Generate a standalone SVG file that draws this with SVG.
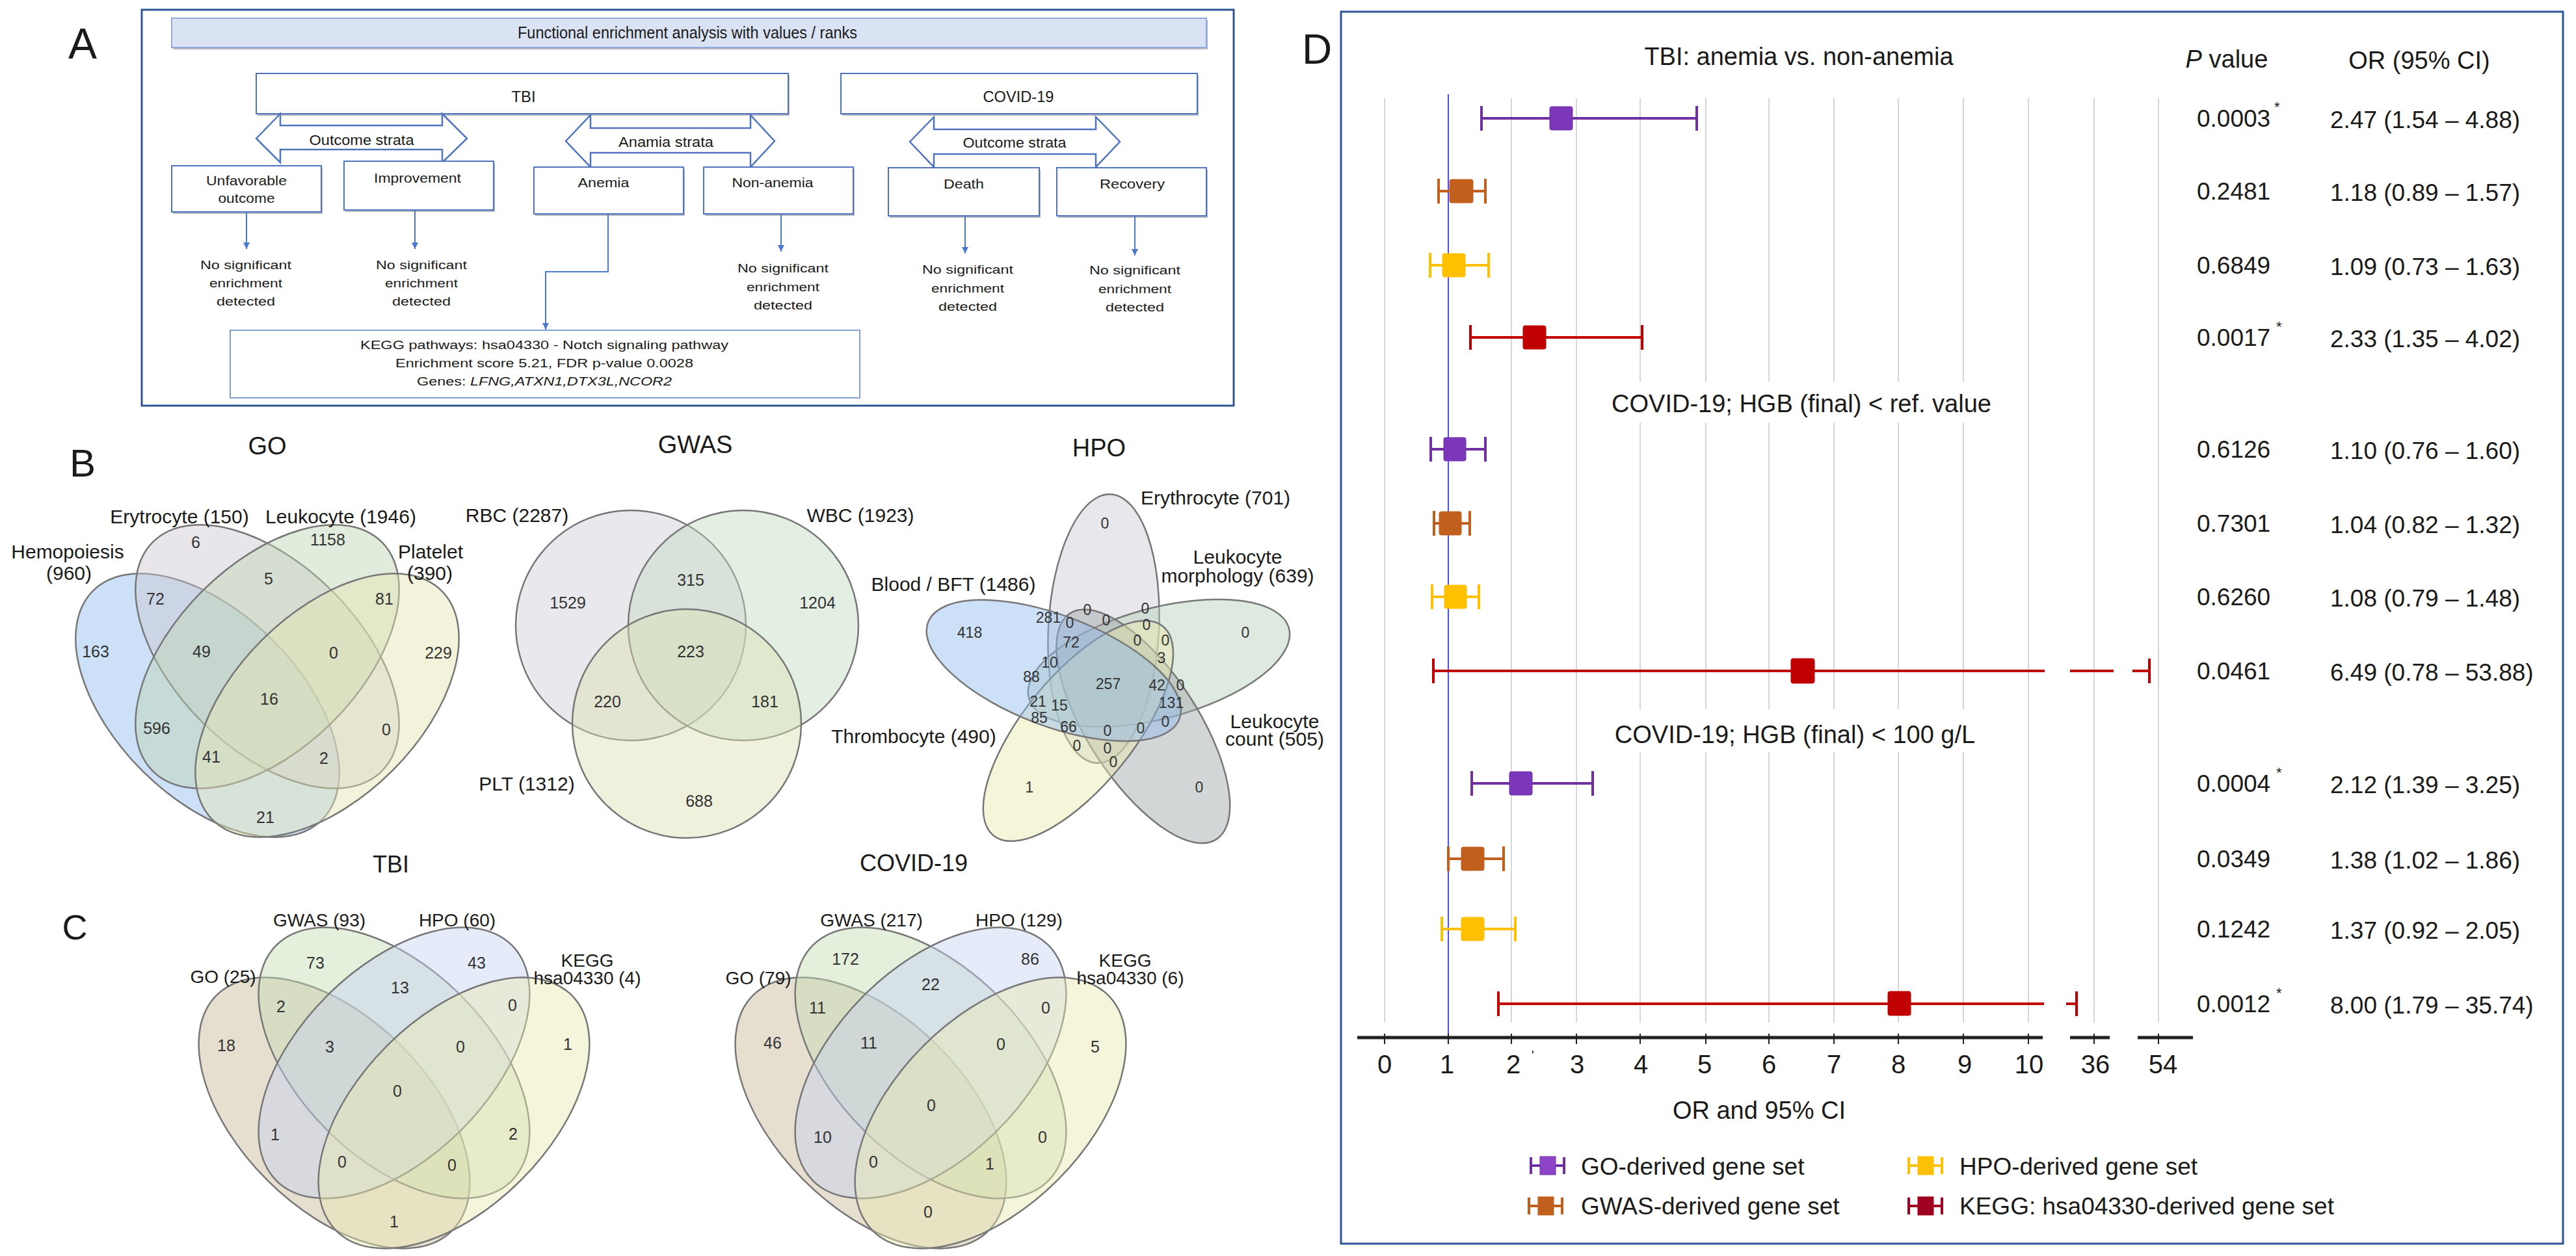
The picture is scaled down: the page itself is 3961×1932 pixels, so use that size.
<svg xmlns="http://www.w3.org/2000/svg" width="3961" height="1932" viewBox="0 0 3961 1932">
<defs>
<style>
text{font-family:"Liberation Sans",Arial,Helvetica,sans-serif;fill:#1a1a1a}
.pl{font-size:66px}
.at{text-anchor:middle;font-size:21px}
.sm{text-anchor:middle;font-size:18px}
.frame{fill:#fff;stroke:#2f5597;stroke-width:3}
.box{fill:#fff;stroke:#4f74bd;stroke-width:2}
.shd{fill:#b4b8c2}
.bar{fill:#dae3f3;stroke:#8faadc;stroke-width:2}
.barr{fill:#fff;stroke:#4f74bd;stroke-width:2.5}
.con{fill:none;stroke:#4a78cc;stroke-width:2}
.vl{font-size:30px;text-anchor:middle}
.vc{font-size:28px;text-anchor:middle}
.vt{font-size:38px;text-anchor:middle}
.n{font-size:25px;text-anchor:middle;fill:#333;dominant-baseline:central}
.nh{font-size:23px;text-anchor:middle;fill:#333;dominant-baseline:central}
.ell{stroke:#777;stroke-width:2.5;fill-opacity:.45}
.grid{stroke:#d6d6d6;stroke-width:2}
.dt{font-size:37px}
.dh{font-size:38px;text-anchor:middle}
.tk{font-size:40px;text-anchor:middle}
.ci{stroke-width:4;fill:none}
.star{font-size:22px}
</style>
<marker id="ah" viewBox="0 0 10 10" refX="10" refY="5" markerWidth="10" markerHeight="12" markerUnits="userSpaceOnUse" orient="auto">
<path d="M0,0 L10,5 L0,10 z" fill="#4a78cc"/>
</marker>
</defs>
<rect width="3961" height="1932" fill="#fff"/>

<!-- Panel letters -->
<text class="pl" x="127" y="90" text-anchor="middle" font-size="70">A</text>
<text class="pl" x="127" y="733" text-anchor="middle" style="font-size:60px">B</text>
<text class="pl" x="115" y="1445" text-anchor="middle" style="font-size:54px">C</text>
<text class="pl" x="2025" y="98" text-anchor="middle" style="font-size:64px">D</text>

<!-- ================= PANEL A ================= -->
<g id="panelA">
<rect class="frame" x="218" y="15" width="1679" height="609"/>
<g id="a-header">
<rect class="shd" x="266" y="31" width="1591" height="45"/>
<rect class="bar" x="264" y="28" width="1591" height="45"/>
<text x="1057" y="59" text-anchor="middle" font-size="26" textLength="522" lengthAdjust="spacingAndGlyphs">Functional enrichment analysis with values / ranks</text>
</g>
<g id="a-tbi">
<rect class="shd" x="396" y="116" width="818" height="62"/>
<rect class="box" x="394" y="113" width="818" height="62"/>
<text x="805" y="157" text-anchor="middle" font-size="24" textLength="37" lengthAdjust="spacingAndGlyphs">TBI</text>
</g>
<g id="a-covid">
<rect class="shd" x="1295" y="116" width="548" height="62"/>
<rect class="box" x="1293" y="113" width="548" height="62"/>
<text x="1566" y="157" text-anchor="middle" font-size="24" textLength="109" lengthAdjust="spacingAndGlyphs">COVID-19</text>
</g>
<g id="a-outcome1">
<polygon class="barr" points="394,213 431,175 431,193 680,193 680,175 718,213 680,250 680,230 431,230 431,250"/>
<text x="556" y="223" text-anchor="middle" font-size="22" textLength="161" lengthAdjust="spacingAndGlyphs">Outcome strata</text>
</g>
<g id="a-anemia-strata">
<polygon class="barr" points="870,217 908,177 908,197 1154,197 1154,177 1191,217 1154,257 1154,235 908,235 908,257"/>
<text x="1024" y="226" text-anchor="middle" font-size="22" textLength="146" lengthAdjust="spacingAndGlyphs">Anamia strata</text>
</g>
<g id="a-outcome2">
<polygon class="barr" points="1399,218 1436,180 1436,199 1685,199 1685,180 1722,218 1685,257 1685,237 1436,237 1436,257"/>
<text x="1560" y="227" text-anchor="middle" font-size="22" textLength="159" lengthAdjust="spacingAndGlyphs">Outcome strata</text>
</g>
<g id="a-unfav">
<rect class="shd" x="266" y="258" width="230" height="71"/>
<rect class="box" x="264" y="255" width="230" height="71"/>
<text x="379" y="285" text-anchor="middle" font-size="21" textLength="124" lengthAdjust="spacingAndGlyphs">Unfavorable</text>
<text x="379" y="312" text-anchor="middle" font-size="21" textLength="87" lengthAdjust="spacingAndGlyphs">outcome</text>
</g>
<g id="a-improve">
<rect class="shd" x="531" y="251" width="230" height="75"/>
<rect class="box" x="529" y="248" width="230" height="75"/>
<text x="642" y="281" text-anchor="middle" font-size="21" textLength="134" lengthAdjust="spacingAndGlyphs">Improvement</text>
</g>
<g id="a-anemia">
<rect class="shd" x="823" y="260" width="230" height="72"/>
<rect class="box" x="821" y="257" width="230" height="72"/>
<text x="928" y="288" text-anchor="middle" font-size="21" textLength="79" lengthAdjust="spacingAndGlyphs">Anemia</text>
</g>
<g id="a-nonanemia">
<rect class="shd" x="1084" y="260" width="230" height="72"/>
<rect class="box" x="1082" y="257" width="230" height="72"/>
<text x="1188" y="288" text-anchor="middle" font-size="21" textLength="125" lengthAdjust="spacingAndGlyphs">Non-anemia</text>
</g>
<g id="a-death">
<rect class="shd" x="1368" y="261" width="232" height="74"/>
<rect class="box" x="1366" y="258" width="232" height="74"/>
<text x="1482" y="290" text-anchor="middle" font-size="21" textLength="62" lengthAdjust="spacingAndGlyphs">Death</text>
</g>
<g id="a-recovery">
<rect class="shd" x="1627" y="261" width="230" height="74"/>
<rect class="box" x="1625" y="258" width="230" height="74"/>
<text x="1741" y="290" text-anchor="middle" font-size="21" textLength="100" lengthAdjust="spacingAndGlyphs">Recovery</text>
</g>
<g id="a-ns1">
<text x="378" y="414" text-anchor="middle" font-size="18" textLength="140" lengthAdjust="spacingAndGlyphs">No significant</text>
<text x="378" y="442" text-anchor="middle" font-size="18" textLength="112" lengthAdjust="spacingAndGlyphs">enrichment</text>
<text x="378" y="470" text-anchor="middle" font-size="18" textLength="90" lengthAdjust="spacingAndGlyphs">detected</text>
</g>
<g id="a-ns2">
<text x="648" y="414" text-anchor="middle" font-size="18" textLength="140" lengthAdjust="spacingAndGlyphs">No significant</text>
<text x="648" y="442" text-anchor="middle" font-size="18" textLength="112" lengthAdjust="spacingAndGlyphs">enrichment</text>
<text x="648" y="470" text-anchor="middle" font-size="18" textLength="90" lengthAdjust="spacingAndGlyphs">detected</text>
</g>
<g id="a-ns3">
<text x="1204" y="419" text-anchor="middle" font-size="18" textLength="140" lengthAdjust="spacingAndGlyphs">No significant</text>
<text x="1204" y="448" text-anchor="middle" font-size="18" textLength="112" lengthAdjust="spacingAndGlyphs">enrichment</text>
<text x="1204" y="476" text-anchor="middle" font-size="18" textLength="90" lengthAdjust="spacingAndGlyphs">detected</text>
</g>
<g id="a-ns4">
<text x="1488" y="421" text-anchor="middle" font-size="18" textLength="140" lengthAdjust="spacingAndGlyphs">No significant</text>
<text x="1488" y="450" text-anchor="middle" font-size="18" textLength="112" lengthAdjust="spacingAndGlyphs">enrichment</text>
<text x="1488" y="478" text-anchor="middle" font-size="18" textLength="90" lengthAdjust="spacingAndGlyphs">detected</text>
</g>
<g id="a-ns5">
<text x="1745" y="422" text-anchor="middle" font-size="18" textLength="140" lengthAdjust="spacingAndGlyphs">No significant</text>
<text x="1745" y="451" text-anchor="middle" font-size="18" textLength="112" lengthAdjust="spacingAndGlyphs">enrichment</text>
<text x="1745" y="479" text-anchor="middle" font-size="18" textLength="90" lengthAdjust="spacingAndGlyphs">detected</text>
</g>
<g id="a-kegg">
<rect class="box" x="354" y="508" width="968" height="104" style="stroke:#7f9fd8"/>
<text x="837" y="537" text-anchor="middle" font-size="18" textLength="566" lengthAdjust="spacingAndGlyphs">KEGG pathways: hsa04330 - Notch signaling pathway</text>
<text x="837" y="565" text-anchor="middle" font-size="18" textLength="458" lengthAdjust="spacingAndGlyphs">Enrichment score 5.21, FDR p-value 0.0028</text>
<text x="837" y="593" text-anchor="middle" font-size="18" textLength="392" lengthAdjust="spacingAndGlyphs">Genes: <tspan font-style="italic">LFNG,ATXN1,DTX3L,NCOR2</tspan></text>
</g>
<g id="a-connectors">
<line class="con" x1="379" y1="327" x2="379" y2="383" marker-end="url(#ah)"/>
<line class="con" x1="638" y1="324" x2="638" y2="383" marker-end="url(#ah)"/>
<line class="con" x1="1201" y1="330" x2="1201" y2="387" marker-end="url(#ah)"/>
<line class="con" x1="1484" y1="333" x2="1484" y2="390" marker-end="url(#ah)"/>
<line class="con" x1="1745" y1="333" x2="1745" y2="393" marker-end="url(#ah)"/>
<polyline class="con" points="935,330 935,418 839,418 839,507" marker-end="url(#ah)"/>
</g>
</g>

<!-- ================= PANEL B: GO ================= -->
<g id="venn-go">
<text class="vt" x="411" y="699">GO</text>
<ellipse class="ell" cx="319" cy="1085" rx="249" ry="142" transform="rotate(45 319 1085)" fill="#8ebbee"/>
<ellipse class="ell" cx="411" cy="1010" rx="249" ry="142" transform="rotate(45 411 1010)" fill="#ccc8d1"/>
<ellipse class="ell" cx="411" cy="1010" rx="249" ry="142" transform="rotate(-45 411 1010)" fill="#bfd5b2"/>
<ellipse class="ell" cx="503" cy="1085" rx="249" ry="142" transform="rotate(-45 503 1085)" fill="#e5e5b2"/>
<text class="vl" x="276" y="805">Erytrocyte (150)</text>
<text class="vl" x="524" y="805">Leukocyte (1946)</text>
<text class="vl" x="104" y="859">Hemopoiesis</text>
<text class="vl" x="106" y="892">(960)</text>
<text class="vl" x="662" y="859">Platelet</text>
<text class="vl" x="661" y="892">(390)</text>
<text class="n" x="301" y="834">6</text>
<text class="n" x="504" y="830">1158</text>
<text class="n" x="413" y="890">5</text>
<text class="n" x="239" y="921">72</text>
<text class="n" x="591" y="921">81</text>
<text class="n" x="147" y="1002">163</text>
<text class="n" x="310" y="1002">49</text>
<text class="n" x="513" y="1004">0</text>
<text class="n" x="674" y="1004">229</text>
<text class="n" x="414" y="1075">16</text>
<text class="n" x="241" y="1120">596</text>
<text class="n" x="594" y="1122">0</text>
<text class="n" x="325" y="1164">41</text>
<text class="n" x="498" y="1166">2</text>
<text class="n" x="408" y="1257">21</text>
</g>

<!-- ================= PANEL B: GWAS ================= -->
<g id="venn-gwas">
<text class="vt" x="1069" y="697">GWAS</text>
<circle class="ell" cx="970" cy="962" r="177" fill="#cfcdd6"/>
<circle class="ell" cx="1143" cy="962" r="177" fill="#c3dbc3"/>
<circle class="ell" cx="1056" cy="1113" r="176" fill="#dcdfb2"/>
<text class="vl" x="795" y="803">RBC (2287)</text>
<text class="vl" x="1323" y="803">WBC (1923)</text>
<text class="vl" x="810" y="1216">PLT (1312)</text>
<text class="n" x="873" y="927">1529</text>
<text class="n" x="1062" y="892">315</text>
<text class="n" x="1257" y="927">1204</text>
<text class="n" x="1062" y="1002">223</text>
<text class="n" x="934" y="1079">220</text>
<text class="n" x="1176" y="1079">181</text>
<text class="n" x="1075" y="1232">688</text>
</g>

<!-- ================= PANEL B: HPO ================= -->
<g id="venn-hpo">
<text class="vt" x="1690" y="702">HPO</text>
<ellipse class="ell" cx="1697" cy="967" rx="85" ry="207" transform="rotate(3 1697 967)" fill="#cccad2"/>
<g transform="rotate(72 1703 1052)"><ellipse class="ell" cx="1697" cy="967" rx="85" ry="207" transform="rotate(3 1697 967)" fill="#b5cfb8"/></g>
<g transform="rotate(144 1703 1052)"><ellipse class="ell" cx="1697" cy="967" rx="85" ry="207" transform="rotate(3 1697 967)" fill="#9ea3a3"/></g>
<g transform="rotate(216 1703 1052)"><ellipse class="ell" cx="1697" cy="967" rx="85" ry="207" transform="rotate(3 1697 967)" fill="#e9e9ae"/></g>
<g transform="rotate(288 1703 1052)"><ellipse class="ell" cx="1697" cy="967" rx="85" ry="207" transform="rotate(3 1697 967)" fill="#8ebbee"/></g>
<text class="vl" x="1754" y="776" text-anchor="start" style="text-anchor:start">Erythrocyte (701)</text>
<text class="vl" x="1903" y="867">Leukocyte</text>
<text class="vl" x="1903" y="896">morphology (639)</text>
<text class="vl" x="1466" y="909">Blood / BFT (1486)</text>
<text class="vl" x="1405" y="1143">Thrombocyte (490)</text>
<text class="vl" x="1960" y="1120">Leukocyte</text>
<text class="vl" x="1960" y="1147">count (505)</text>
<text class="nh" x="1699" y="805">0</text>
<text class="nh" x="1612" y="950">281</text>
<text class="nh" x="1645" y="958">0</text>
<text class="nh" x="1672" y="938">0</text>
<text class="nh" x="1761" y="936">0</text>
<text class="nh" x="1701" y="954">0</text>
<text class="nh" x="1763" y="961">0</text>
<text class="nh" x="1915" y="973">0</text>
<text class="nh" x="1491" y="973">418</text>
<text class="nh" x="1647" y="988">72</text>
<text class="nh" x="1749" y="985">0</text>
<text class="nh" x="1792" y="985">0</text>
<text class="nh" x="1786" y="1012">3</text>
<text class="nh" x="1614" y="1019">10</text>
<text class="nh" x="1586" y="1041">88</text>
<text class="nh" x="1704" y="1052">257</text>
<text class="nh" x="1779" y="1054">42</text>
<text class="nh" x="1815" y="1054">0</text>
<text class="nh" x="1801" y="1081">131</text>
<text class="nh" x="1596" y="1079">21</text>
<text class="nh" x="1629" y="1085">15</text>
<text class="nh" x="1598" y="1104">85</text>
<text class="nh" x="1643" y="1118">66</text>
<text class="nh" x="1703" y="1124">0</text>
<text class="nh" x="1754" y="1120">0</text>
<text class="nh" x="1792" y="1110">0</text>
<text class="nh" x="1656" y="1147">0</text>
<text class="nh" x="1703" y="1151">0</text>
<text class="nh" x="1712" y="1172">0</text>
<text class="nh" x="1583" y="1211">1</text>
<text class="nh" x="1844" y="1211">0</text>
</g>

<!-- ================= PANEL C: TBI ================= -->
<g id="venn-tbi">
<text class="vt" x="601" y="1342" style="font-size:36px">TBI</text>
<ellipse class="ell" cx="514" cy="1712" rx="256" ry="146" transform="rotate(45 514 1712)" fill="#c8b896"/>
<ellipse class="ell" cx="606" cy="1635" rx="256" ry="146" transform="rotate(45 606 1635)" fill="#c4dbb2"/>
<ellipse class="ell" cx="606" cy="1635" rx="256" ry="146" transform="rotate(-45 606 1635)" fill="#c8d2f2"/>
<ellipse class="ell" cx="698" cy="1712" rx="256" ry="146" transform="rotate(-45 698 1712)" fill="#e9e9b2"/>
<text class="vc" x="491" y="1425">GWAS (93)</text>
<text class="vc" x="703" y="1425">HPO (60)</text>
<text class="vc" x="343" y="1512">GO (25)</text>
<text class="vc" x="903" y="1487">KEGG</text>
<text class="vc" x="903" y="1514">hsa04330 (4)</text>
<text class="n" x="485" y="1481">73</text>
<text class="n" x="733" y="1481">43</text>
<text class="n" x="615" y="1519">13</text>
<text class="n" x="432" y="1548">2</text>
<text class="n" x="788" y="1546">0</text>
<text class="n" x="348" y="1608">18</text>
<text class="n" x="507" y="1610">3</text>
<text class="n" x="708" y="1610">0</text>
<text class="n" x="873" y="1606">1</text>
<text class="n" x="611" y="1678">0</text>
<text class="n" x="423" y="1745">1</text>
<text class="n" x="789" y="1744">2</text>
<text class="n" x="526" y="1787">0</text>
<text class="n" x="695" y="1792">0</text>
<text class="n" x="606" y="1879">1</text>
</g>

<!-- ================= PANEL C: COVID-19 ================= -->
<g id="venn-covid">
<text class="vt" x="1405" y="1340" style="font-size:36px">COVID-19</text>
<ellipse class="ell" cx="1339" cy="1712" rx="256" ry="146" transform="rotate(45 1339 1712)" fill="#c8b896"/>
<ellipse class="ell" cx="1431" cy="1635" rx="256" ry="146" transform="rotate(45 1431 1635)" fill="#c4dbb2"/>
<ellipse class="ell" cx="1431" cy="1635" rx="256" ry="146" transform="rotate(-45 1431 1635)" fill="#c8d2f2"/>
<ellipse class="ell" cx="1523" cy="1712" rx="256" ry="146" transform="rotate(-45 1523 1712)" fill="#e9e9b2"/>
<text class="vc" x="1340" y="1425">GWAS (217)</text>
<text class="vc" x="1567" y="1425">HPO (129)</text>
<text class="vc" x="1166" y="1514">GO (79)</text>
<text class="vc" x="1730" y="1487">KEGG</text>
<text class="vc" x="1738" y="1514">hsa04330 (6)</text>
<text class="n" x="1300" y="1475">172</text>
<text class="n" x="1584" y="1475">86</text>
<text class="n" x="1431" y="1514">22</text>
<text class="n" x="1257" y="1550">11</text>
<text class="n" x="1608" y="1550">0</text>
<text class="n" x="1188" y="1604">46</text>
<text class="n" x="1336" y="1604">11</text>
<text class="n" x="1539" y="1606">0</text>
<text class="n" x="1684" y="1610">5</text>
<text class="n" x="1432" y="1700">0</text>
<text class="n" x="1265" y="1749">10</text>
<text class="n" x="1603" y="1749">0</text>
<text class="n" x="1343" y="1787">0</text>
<text class="n" x="1522" y="1790">1</text>
<text class="n" x="1427" y="1864">0</text>
</g>

<!-- ================= PANEL D ================= -->
<g id="panelD">
<rect class="frame" x="2062" y="18" width="1879" height="1895"/>
<g id="d-grid">
<line class="grid" x1="2129" y1="151" x2="2129" y2="1573"/>
<line class="grid" x1="2324" y1="151" x2="2324" y2="1573"/>
<line class="grid" x1="2424" y1="151" x2="2424" y2="1573"/>
<path class="grid" d="M2522,151V587M2522,650V1091M2522,1157V1573"/>
<path class="grid" d="M2623,151V587M2623,650V1091M2623,1157V1573"/>
<path class="grid" d="M2720,151V587M2720,650V1091M2720,1157V1573"/>
<path class="grid" d="M2820,151V587M2820,650V1091M2820,1157V1573"/>
<path class="grid" d="M2919,151V587M2919,650V1091M2919,1157V1573"/>
<path class="grid" d="M3019,151V587M3019,650V1091M3019,1157V1573"/>
<line class="grid" x1="3119" y1="151" x2="3119" y2="1573"/>
<line class="grid" x1="3220" y1="151" x2="3220" y2="1573"/>
<line class="grid" x1="3319" y1="151" x2="3319" y2="1573"/>
<line x1="2227" y1="145" x2="2227" y2="1598" stroke="#4b4bff" stroke-width="2"/>
</g>
<g id="d-headers">
<text class="dh" x="2766" y="100">TBI: anemia vs. non-anemia</text>
<text class="dh" x="3424" y="104"><tspan font-style="italic">P</tspan> value</text>
<text class="dh" x="3720" y="106">OR (95% CI)</text>
<text class="dh" x="2770" y="634">COVID-19; HGB (final) &lt; ref. value</text>
<text class="dh" x="2760" y="1143">COVID-19; HGB (final) &lt; 100 g/L</text>
</g>
<g id="d-row1" stroke="#7030a0">
<path class="ci" d="M2278,182H2609M2278,163V201M2609,163V201"/>
<rect x="2383" y="164" width="35" height="36" rx="3" fill="#7b36b9"/>
</g>
<g id="d-row2" stroke="#c0601c">
<path class="ci" d="M2212,294H2284M2212,275V313M2284,275V313"/>
<rect x="2229" y="276" width="36" height="36" rx="3" fill="#c0601c"/>
</g>
<g id="d-row3" stroke="#ffc000">
<path class="ci" d="M2199,408H2289M2199,389V427M2289,389V427"/>
<rect x="2218" y="390" width="35" height="36" rx="3" fill="#ffc000"/>
</g>
<g id="d-row4" stroke="#c00000">
<path class="ci" d="M2261,519H2525M2261,500V538M2525,500V538"/>
<rect x="2342" y="501" width="35" height="36" rx="3" fill="#c00000"/>
</g>
<g id="d-row5" stroke="#7030a0">
<path class="ci" d="M2200,691H2284M2200,672V710M2284,672V710"/>
<rect x="2220" y="673" width="34" height="36" rx="3" fill="#7b36b9"/>
</g>
<g id="d-row6" stroke="#c0601c">
<path class="ci" d="M2205,805H2260M2205,786V824M2260,786V824"/>
<rect x="2213" y="787" width="34" height="36" rx="3" fill="#c0601c"/>
</g>
<g id="d-row7" stroke="#ffc000">
<path class="ci" d="M2202,918H2274M2202,899V937M2274,899V937"/>
<rect x="2221" y="900" width="34" height="36" rx="3" fill="#ffc000"/>
</g>
<g id="d-row8" stroke="#c00000">
<path class="ci" d="M2204,1032H3144M3183,1032H3250M3279,1032H3305M2204,1013V1051M3305,1013V1051"/>
<rect x="2754" y="1013" width="36" height="38" rx="3" fill="#c00000"/>
</g>
<g id="d-row9" stroke="#7030a0">
<path class="ci" d="M2263,1205H2449M2263,1186V1224M2449,1186V1224"/>
<rect x="2321" y="1187" width="35" height="36" rx="3" fill="#7b36b9"/>
</g>
<g id="d-row10" stroke="#c0601c">
<path class="ci" d="M2227,1321H2312M2227,1302V1340M2312,1302V1340"/>
<rect x="2247" y="1303" width="35" height="36" rx="3" fill="#c0601c"/>
</g>
<g id="d-row11" stroke="#ffc000">
<path class="ci" d="M2217,1429H2330M2217,1410V1448M2330,1410V1448"/>
<rect x="2247" y="1411" width="35" height="36" rx="3" fill="#ffc000"/>
</g>
<g id="d-row12" stroke="#c00000">
<path class="ci" d="M2304,1544H3143M3177,1544H3193M2304,1525V1563M3193,1525V1563"/>
<rect x="2903" y="1525" width="35" height="37" rx="3" fill="#c00000"/>
</g>
<g id="d-values" class="dt">
<text class="dt" x="3378" y="195">0.0003</text><text class="star" x="3497" y="172">*</text>
<text class="dt" x="3583" y="197">2.47 (1.54 – 4.88)</text>
<text class="dt" x="3378" y="307">0.2481</text>
<text class="dt" x="3583" y="309">1.18 (0.89 – 1.57)</text>
<text class="dt" x="3378" y="421">0.6849</text>
<text class="dt" x="3583" y="423">1.09 (0.73 – 1.63)</text>
<text class="dt" x="3378" y="532">0.0017</text><text class="star" x="3500" y="510">*</text>
<text class="dt" x="3583" y="534">2.33 (1.35 – 4.02)</text>
<text class="dt" x="3378" y="704">0.6126</text>
<text class="dt" x="3583" y="706">1.10 (0.76 – 1.60)</text>
<text class="dt" x="3378" y="818">0.7301</text>
<text class="dt" x="3583" y="820">1.04 (0.82 – 1.32)</text>
<text class="dt" x="3378" y="931">0.6260</text>
<text class="dt" x="3583" y="933">1.08 (0.79 – 1.48)</text>
<text class="dt" x="3378" y="1045">0.0461</text>
<text class="dt" x="3583" y="1047">6.49 (0.78 – 53.88)</text>
<text class="dt" x="3378" y="1218">0.0004</text><text class="star" x="3500" y="1196">*</text>
<text class="dt" x="3583" y="1220">2.12 (1.39 – 3.25)</text>
<text class="dt" x="3378" y="1334">0.0349</text>
<text class="dt" x="3583" y="1336">1.38 (1.02 – 1.86)</text>
<text class="dt" x="3378" y="1442">0.1242</text>
<text class="dt" x="3583" y="1444">1.37 (0.92 – 2.05)</text>
<text class="dt" x="3378" y="1557">0.0012</text><text class="star" x="3500" y="1535">*</text>
<text class="dt" x="3583" y="1559">8.00 (1.79 – 35.74)</text>
</g>
<g id="d-axis">
<path d="M2087,1596H3141M3183,1596H3244M3287,1596H3372" stroke="#222" stroke-width="5"/>
<path d="M2129,1590V1606M2227,1590V1606M2324,1590V1606M2424,1590V1606M2522,1590V1606M2623,1590V1606M2720,1590V1606M2820,1590V1606M2919,1590V1606M3019,1590V1606M3119,1590V1606M3220,1590V1606M3319,1590V1606" stroke="#222" stroke-width="2"/>
<text class="tk" x="2129" y="1651">0</text>
<text class="tk" x="2225" y="1651">1</text>
<text class="tk" x="2327" y="1651">2</text>
<text x="2357" y="1630" font-size="20" text-anchor="middle">'</text>
<text class="tk" x="2425" y="1651">3</text>
<text class="tk" x="2523" y="1651">4</text>
<text class="tk" x="2621" y="1651">5</text>
<text class="tk" x="2720" y="1651">6</text>
<text class="tk" x="2820" y="1651">7</text>
<text class="tk" x="2919" y="1651">8</text>
<text class="tk" x="3021" y="1651">9</text>
<text class="tk" x="3120" y="1651">10</text>
<text class="tk" x="3222" y="1651">36</text>
<text class="tk" x="3326" y="1651">54</text>
<text class="dh" x="2705" y="1721">OR and 95% CI</text>
</g>
<g id="d-legend">
<g stroke="#7030a0"><path class="ci" d="M2354,1793H2405M2354,1780V1806M2405,1780V1806"/><rect x="2368" y="1779" width="24" height="28" fill="#8e44c8"/></g>
<text class="dt" x="2431" y="1807">GO-derived gene set</text>
<g stroke="#c0601c"><path class="ci" d="M2351,1855H2402M2351,1842V1868M2402,1842V1868"/><rect x="2365" y="1841" width="24" height="28" fill="#c0601c"/></g>
<text class="dt" x="2431" y="1868">GWAS-derived gene set</text>
<g stroke="#ffc000"><path class="ci" d="M2935,1793H2986M2935,1780V1806M2986,1780V1806"/><rect x="2949" y="1779" width="24" height="28" fill="#ffc000"/></g>
<text class="dt" x="3013" y="1807">HPO-derived gene set</text>
<g stroke="#a00020"><path class="ci" d="M2935,1855H2986M2935,1842V1868M2986,1842V1868"/><rect x="2949" y="1841" width="24" height="28" fill="#a00020"/></g>
<text class="dt" x="3013" y="1868">KEGG: hsa04330-derived gene set</text>
</g>
</g>
</svg>
